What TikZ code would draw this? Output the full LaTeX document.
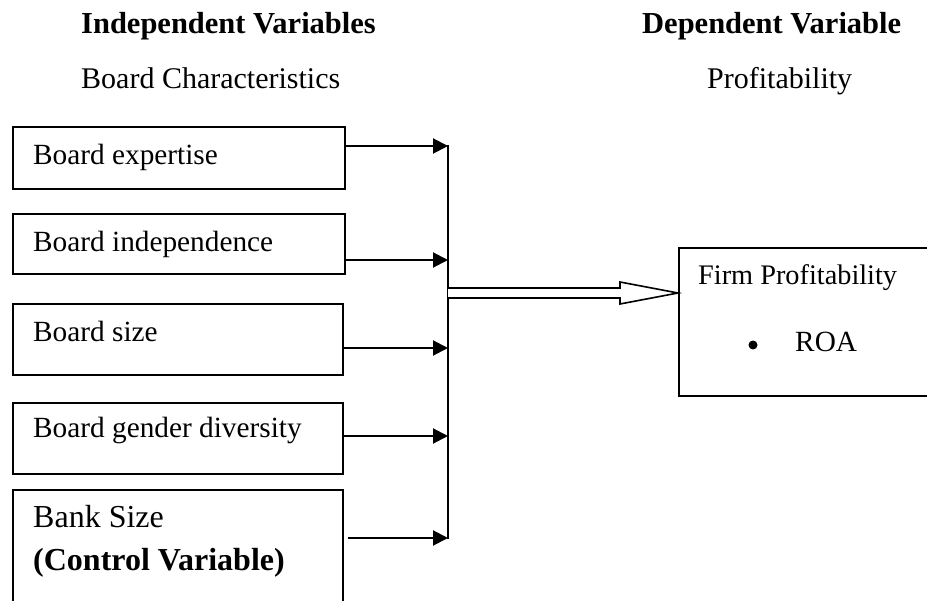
\documentclass[tikz,border=0pt]{standalone}
\usepackage{fontspec}
\setmainfont{Liberation Serif}
\usetikzlibrary{arrows.meta}
\begin{document}
\begin{tikzpicture}[x=1pt,y=-1pt,
  boxstyle/.style={draw, line width=1.8pt, rectangle, anchor=north west, inner sep=0pt},
  txt/.style={anchor=base west, inner sep=0pt, font=\fontsize{29.3}{34}\selectfont},
  head/.style={anchor=base west, inner sep=0pt, font=\fontsize{30.5}{36}\selectfont\bfseries},
  sub/.style={anchor=base west, inner sep=0pt, font=\fontsize{30}{36}\selectfont},
  arr/.style={line width=2pt, -{Triangle[length=15pt,width=15pt]}},
  bus/.style={line width=2pt}]
\useasboundingbox (0,0) rectangle (927,601);
\clip (0,0) rectangle (927,601);
% headers
\node[head] (h1) at (81,34) {Independent Variables};
\node[head] (h2) at (642,34) {Dependent Variable};
\node[sub] (s1) at (81,89) {Board Characteristics};
\node[sub] (s2) at (707,89) {Profitability};
% left boxes
\node[boxstyle, minimum width=332pt, minimum height=62pt] (b1) at (12,126) {};
\node[boxstyle, minimum width=332pt, minimum height=60pt] (b2) at (12,213) {};
\node[boxstyle, minimum width=330pt, minimum height=71pt] (b3) at (12,303) {};
\node[boxstyle, minimum width=330pt, minimum height=71pt] (b4) at (12,402) {};
\node[boxstyle, minimum width=330pt, minimum height=140pt] (b5) at (12,489) {};
\node[txt] (t1) at (33,165) {Board expertise};
\node[txt] (t2) at (33,252) {Board independence};
\node[txt] (t3) at (33,342) {Board size};
\node[txt] (t4) at (33,438) {Board gender diversity};
\node[txt, font=\fontsize{32}{38}\selectfont] (t5) at (33,528) {Bank Size};
\node[txt, font=\fontsize{32}{38}\selectfont\bfseries] (t6) at (33,570) {(Control Variable)};
% bus
\coordinate (j1) at (448,146);
\coordinate (j2) at (448,260);
\coordinate (j3) at (448,348);
\coordinate (j4) at (448,436);
\coordinate (j5) at (448,538);
\draw[bus] (448,145) coordinate (bt) -- (448,539) coordinate (bb);
\draw[arr] (b1.east |- j1) -- (j1);
\draw[arr] (b2.east |- j2) -- (j2);
\draw[arr] (b3.east |- j3) -- (j3);
\draw[arr] (b4.east |- j4) -- (j4);
\draw[arr] ([xshift=4pt]b5.east |- j5) -- (j5);
% right box
\node[boxstyle, minimum width=270pt, minimum height=148pt] (rb) at (678,247) {};
\node[txt, font=\fontsize{28.3}{34}\selectfont] (rt) at (698,285) {Firm Profitability};
\node[inner sep=0pt] (dot) at (753,345) {};
\fill (dot) circle (4.5pt);
\node[txt] (roa) at (795,352) {ROA};
% double open arrow
\coordinate (tip) at (rb.west |- 0,293);
\draw[line width=1.6pt, fill=white, line join=miter]
  (bt |- 0,288) -- (620,288) -- (620,282) -- (tip) -- (620,304) -- (620,298) -- (bt |- 0,298);
\end{tikzpicture}
\end{document}
